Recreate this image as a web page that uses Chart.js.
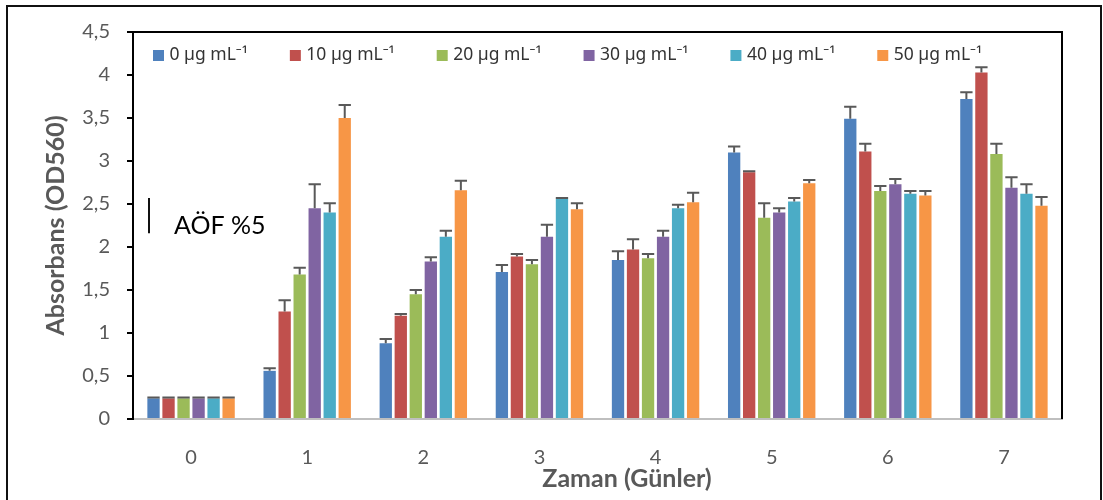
<!DOCTYPE html>
<html>
<head>
<meta charset="utf-8">
<script src="https://cdn.jsdelivr.net/npm/chart.js@4/dist/chart.umd.min.js"></script>
<style>
  html, body { margin: 0; padding: 0; background: #fff; }
  #wrap { width: 1103px; height: 500px; position: relative; }
</style>
</head>
<body>
<div id="wrap"><canvas id="c" width="1103" height="500"></canvas></div>
<script>
// Days of measurement
const days = ['0', '1', '2', '3', '4', '5', '6', '7'];

// Series names
const seriesLabels = ['0 µg mL⁻¹', '10 µg mL⁻¹', '20 µg mL⁻¹', '30 µg mL⁻¹', '40 µg mL⁻¹', '50 µg mL⁻¹'];

// Mean absorbance (OD560) per concentration
const conc0  = [0.24, 0.56, 0.88, 1.71, 1.85, 3.10, 3.49, 3.72];
const conc10 = [0.24, 1.25, 1.20, 1.89, 1.97, 2.87, 3.11, 4.03];
const conc20 = [0.24, 1.68, 1.45, 1.80, 1.87, 2.34, 2.65, 3.08];
const conc30 = [0.24, 2.45, 1.83, 2.12, 2.12, 2.40, 2.73, 2.69];
const conc40 = [0.24, 2.40, 2.12, 2.56, 2.45, 2.53, 2.62, 2.62];
const conc50 = [0.24, 3.50, 2.66, 2.44, 2.52, 2.74, 2.60, 2.48];

// Standard errors (upper whisker)
const err0  = [0.01, 0.03, 0.05, 0.08, 0.10, 0.07, 0.14, 0.08];
const err10 = [0.01, 0.13, 0.02, 0.03, 0.12, 0.01, 0.09, 0.06];
const err20 = [0.01, 0.08, 0.05, 0.05, 0.05, 0.17, 0.06, 0.12];
const err30 = [0.01, 0.28, 0.05, 0.14, 0.07, 0.05, 0.06, 0.12];
const err40 = [0.01, 0.11, 0.07, 0.01, 0.04, 0.04, 0.03, 0.11];
const err50 = [0.01, 0.15, 0.11, 0.07, 0.11, 0.04, 0.05, 0.10];

// Y axis tick labels (comma decimal)
const yTickLabels = ['0', '0,5', '1', '1,5', '2', '2,5', '3', '3,5', '4', '4,5'];

// LSD (5%) reference bar: base value and length
const lsdBase = 2.16;
const lsdValue = 0.41;

const colors = ['#4F81BD', '#C0504D', '#9BBB59', '#8064A2', '#4BACC6', '#F79646'];
const values = [conc0, conc10, conc20, conc30, conc40, conc50];
const errors = [err0, err10, err20, err30, err40, err50];

const FONT = 'Lato, "Open Sans", "Noto Sans", sans-serif';
const LEGEND_FONT = '"Noto Sans", Lato, sans-serif';

const datasets = seriesLabels.map((label, i) => ({
  label,
  data: values[i],
  errors: errors[i],
  backgroundColor: colors[i],
  borderWidth: 0,
  categoryPercentage: 0.776,
  barPercentage: 0.82
}));

// Upper error whiskers with caps
const errorBars = {
  id: 'errorBars',
  afterDatasetsDraw(chart) {
    const ctx = chart.ctx;
    const y = chart.scales.y;
    ctx.save();
    ctx.strokeStyle = '#595959';
    ctx.lineWidth = 2;
    chart.data.datasets.forEach((ds, i) => {
      const meta = chart.getDatasetMeta(i);
      meta.data.forEach((bar, j) => {
        const top = y.getPixelForValue(ds.data[j] + ds.errors[j]);
        const half = bar.width / 2;
        ctx.beginPath();
        ctx.moveTo(bar.x, bar.y);
        ctx.lineTo(bar.x, top);
        ctx.moveTo(bar.x - half, top);
        ctx.lineTo(bar.x + half, top);
        ctx.stroke();
      });
    });
    ctx.restore();
  }
};

// Frames, legend, axis titles and LSD annotation
const decorations = {
  id: 'decorations',
  afterDraw(chart) {
    const ctx = chart.ctx;
    const area = chart.chartArea;
    const y = chart.scales.y;
    ctx.save();

    // outer frame
    ctx.strokeStyle = '#111';
    ctx.lineWidth = 2;
    ctx.beginPath();
    ctx.moveTo(7, 520);
    ctx.lineTo(7, 6);
    ctx.lineTo(1101, 6);
    ctx.lineTo(1101, 520);
    ctx.stroke();

    // plot box top and right edges
    ctx.strokeStyle = '#000';
    ctx.beginPath();
    ctx.moveTo(area.left - 6, area.top);
    ctx.lineTo(area.right, area.top);
    ctx.lineTo(area.right, area.bottom);
    ctx.stroke();

    // legend
    ctx.font = '17.5px ' + LEGEND_FONT;
    ctx.textBaseline = 'middle';
    ctx.textAlign = 'left';
    let lx = 153;
    chart.data.datasets.forEach(ds => {
      ctx.fillStyle = ds.backgroundColor;
      ctx.fillRect(lx, 50, 11, 11);
      ctx.fillStyle = '#333';
      ctx.fillText(ds.label, lx + 16.5, 55);
      lx += 16.5 + ctx.measureText(ds.label).width + 42;
    });

    // LSD bar and label
    ctx.strokeStyle = '#111';
    ctx.lineWidth = 2;
    ctx.beginPath();
    ctx.moveTo(149, y.getPixelForValue(lsdBase));
    ctx.lineTo(149, y.getPixelForValue(lsdBase + lsdValue));
    ctx.stroke();
    ctx.fillStyle = '#000';
    ctx.font = '25px ' + FONT;
    ctx.textBaseline = 'alphabetic';
    ctx.fillText('AÖF %5', 174, 234);

    // axis titles
    ctx.fillStyle = '#595959';
    ctx.font = 'bold 25px ' + FONT;
    ctx.textAlign = 'center';
    ctx.textBaseline = 'middle';
    ctx.fillText('Zaman (Günler)', 627, 479);
    ctx.translate(56, (area.top + area.bottom) / 2);
    ctx.rotate(-Math.PI / 2);
    ctx.fillText('Absorbans (OD560)', 0, 0);

    ctx.restore();
  }
};

new Chart(document.getElementById('c'), {
  type: 'bar',
  data: { labels: days, datasets },
  options: {
    responsive: false,
    animation: false,
    layout: { padding: { left: 0, top: 32, right: 41, bottom: 0 } },
    plugins: { legend: { display: false }, tooltip: { enabled: false } },
    scales: {
      x: {
        grid: { display: false },
        border: { display: true, color: '#BFBFBF', width: 2 },
        ticks: { color: '#595959', font: { family: FONT, size: 20 }, padding: 19 },
        afterFit(scale) { scale.height = 81; }
      },
      y: {
        min: 0,
        max: 4.5,
        grid: { display: true, drawOnChartArea: false, drawTicks: true, tickLength: 6, color: '#000', lineWidth: 2 },
        border: { display: true, color: '#000', width: 2 },
        ticks: {
          stepSize: 0.5,
          color: '#595959',
          font: { family: FONT, size: 20 },
          padding: 17,
          callback: (v, i) => yTickLabels[i]
        },
        afterFit(scale) { scale.width = 133; }
      }
    }
  },
  plugins: [errorBars, decorations]
});
</script>
</body>
</html>
